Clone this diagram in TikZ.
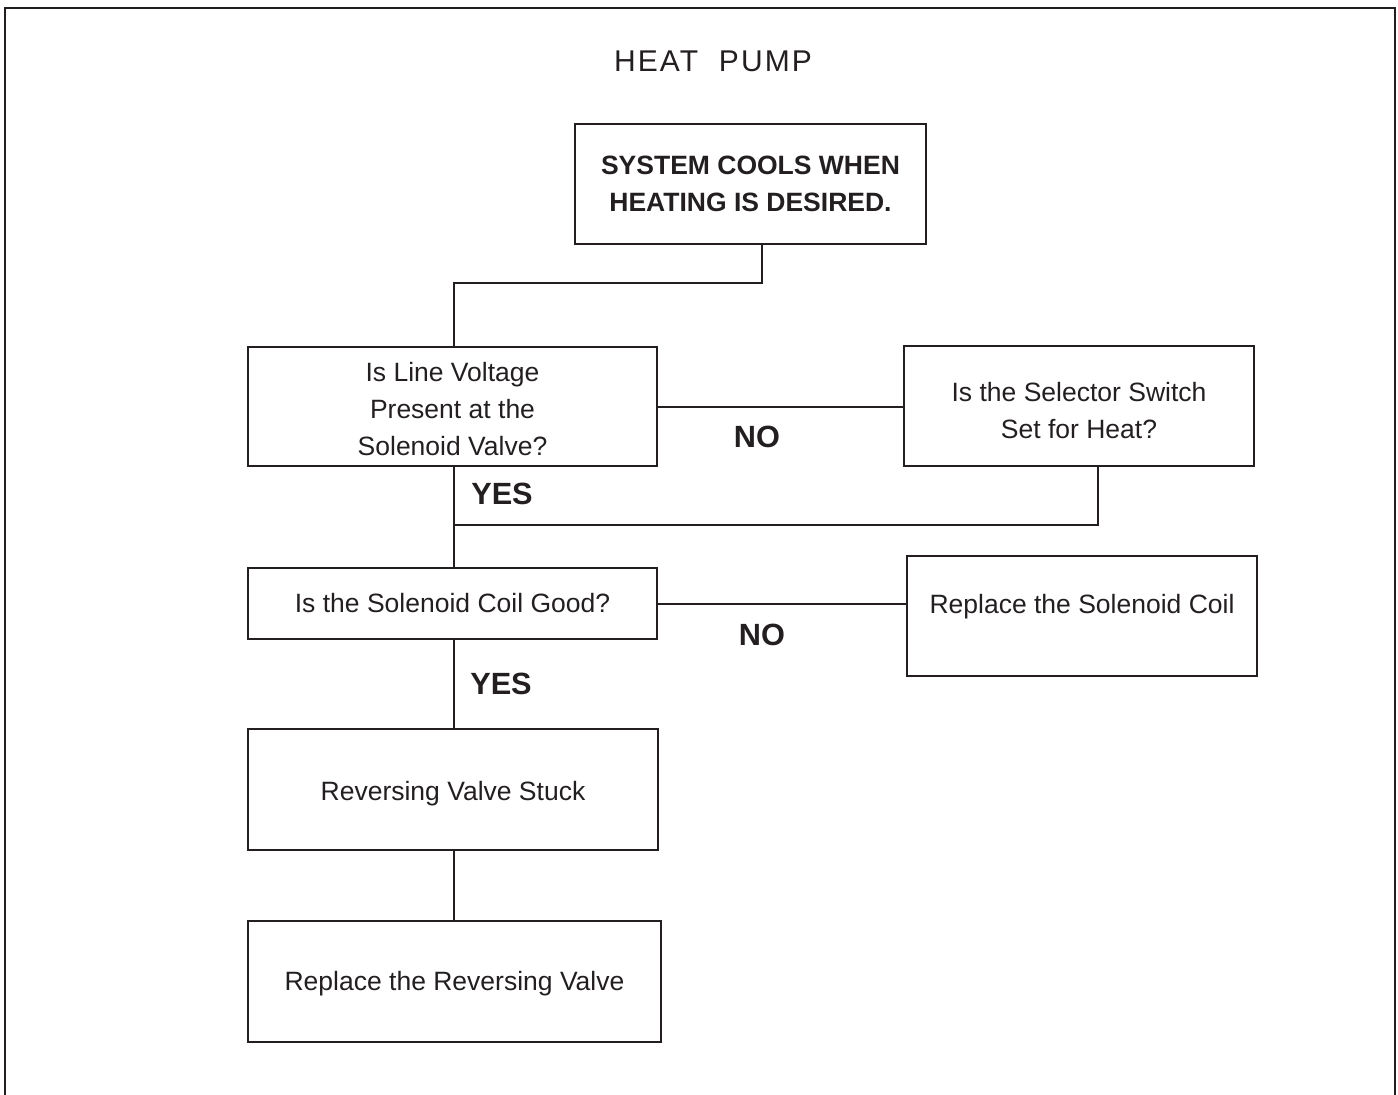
\documentclass[tikz,border=0pt]{standalone}
\usepackage{fontspec}
\setmainfont{Liberation Sans}
\definecolor{ink}{HTML}{231F20}
\newcommand\myBody{\fontsize{26.5}{37}\selectfont}
\newcommand\myLabel{\fontsize{30.7}{36}\selectfont\bfseries}
\newcommand\myTitle{\fontsize{30}{36}\selectfont\addfontfeature{LetterSpace=7}}
\begin{document}
\begin{tikzpicture}[x=1pt,y=-1pt,
  every node/.style={text=ink},
  flowbox/.style={draw=ink, line width=2.4pt, inner sep=0pt, align=center, font=\myBody},
  lowtext/.style={text height=27pt, text depth=5.6pt},
  conn/.style={draw=ink, line width=2pt},
  answer/.style={font=\myLabel, inner sep=0pt}]
\useasboundingbox (0,0) rectangle (1398,1095);
% frame (open at bottom)
\draw[ink, line width=2.5pt] (5,1100) -- (5,8) -- (1395,8) -- (1395,1100);
\node[font=\myTitle, inner sep=0pt] (title) at (713,61) {HEAT\ \ PUMP};
% boxes
\node[flowbox, font=\myBody\bfseries, minimum width=351pt, minimum height=120pt] (top) at (750.5,184) {SYSTEM COOLS WHEN\\HEATING IS DESIRED.};
\node[flowbox, minimum width=409pt, minimum height=119pt] (b1) at (452.5,406.5) {\rule{0pt}{23.5pt}Is Line Voltage\\Present at the\\Solenoid Valve?};
\node[flowbox, minimum width=350pt, minimum height=120pt] (b2) at (1079,406) {\rule{0pt}{28pt}Is the Selector Switch\\Set for Heat?};
\node[flowbox, minimum width=409pt, minimum height=71pt] (b3) at (452.5,603.5) {Is the Solenoid Coil Good?};
\node[flowbox, minimum width=350pt, minimum height=120pt, text height=19pt, text depth=24pt] (b4) at (1082,616) {Replace the Solenoid Coil};
\node[flowbox, lowtext, minimum width=410pt, minimum height=121pt] (b5) at (453,789.5) {Reversing Valve Stuck};
\node[flowbox, text height=23pt, text depth=5.6pt, minimum width=413pt, minimum height=121pt] (b6) at (454.5,981.5) {Replace the Reversing Valve};
% junction coordinates
\coordinate (j1) at (762,283);
\coordinate (j2) at (454,283);
\coordinate (j3) at (1098,525);
% connectors
\draw[conn] (top.south -| j1) -- (j1) -- (j2) -- (j2 |- b1.north);
\draw[conn] (b1.east) -- (b1.east -| b2.west);
\draw[conn] (j2 |- b1.south) -- (j2 |- b3.north);
\draw[conn] (b2.south -| j3) -- (j3) -- (j3 -| j2);
\draw[conn] (b3.east) -- (b3.east -| b4.west);
\draw[conn] (j2 |- b3.south) -- (j2 |- b5.north);
\draw[conn] (j2 |- b5.south) -- (j2 |- b6.north);
% answer labels
\node[answer] (no1) at (757,437) {NO};
\node[answer] (yes1) at (502,494) {YES};
\node[answer] (no2) at (762,635) {NO};
\node[answer] (yes2) at (501,684) {YES};
\end{tikzpicture}
\end{document}
